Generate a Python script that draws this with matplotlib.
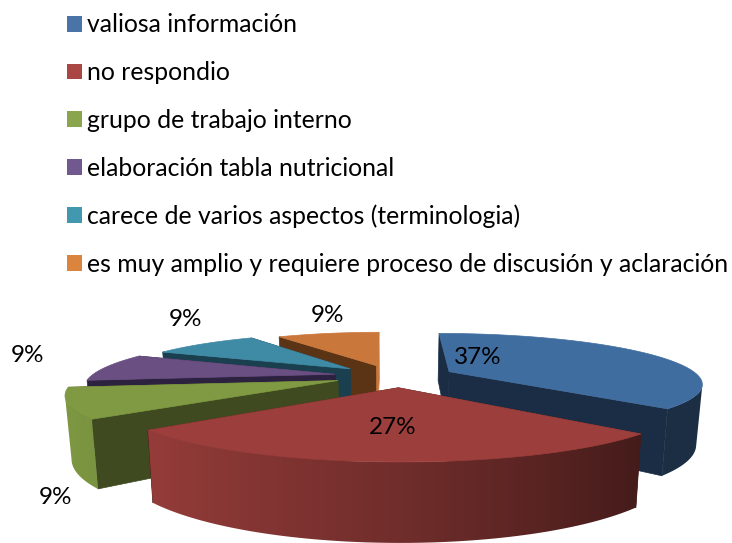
import numpy as np
import matplotlib
matplotlib.use('Agg')
import matplotlib.pyplot as plt
from matplotlib.patches import Patch, Polygon
from matplotlib.colors import to_rgb

labels = ['valiosa información', 'no respondio', 'grupo de trabajo interno',
          'elaboración tabla nutricional', 'carece de varios aspectos (terminologia)',
          'es muy amplio y requiere proceso de discusión y aclaración']
values = [37, 27, 9, 9, 9, 9]

# style per slice
top_colors = ['#406d9f', '#9c3f3c', '#7f9a43', '#6a4f82', '#3f8aa5', '#c9773a']
legend_colors = ['#4a74a8', '#aa4644', '#89a54e', '#71588f', '#4298af', '#db843d']
face_colors = ['#1b2d44', '#431a18', '#3f4a20', '#2d2140', '#1a3f4e', '#5b3315']
radius = [0.95, 1.0, 0.98, 0.93, 0.9, 0.86]
nudge_x = [0.02, 0.03, 0.0, 0.0, 0.0, 0.0]
label_xy = [(478, 357), (393, 428), (55, 497), (27, 355), (185, 319), (327, 315)]
explode = 0.22

# camera
CX, CY = 392, 376
F, G, H, D = 1147, 222, 255, 4.37

plt.rcParams['font.family'] = ['Lato', 'DejaVu Sans']

# images go under patches by default, so number everything in paint order
paint = [1]


def next_z():
    paint[0] += 1
    return paint[0]


def project(X, Y, z=0.0):
    s = 1 / (D + Y)
    return CX + F * X * s * (1 - 0.02 * z), CY - G * Y * s + H * z * s


def poly(ax, xs, ys, color):
    ax.fill(xs, ys, facecolor=color, edgecolor=color, lw=0.5, zorder=next_z())


def draw_wall(ax, i, X, Y, th):
    # outer wall: the front of the rim is where x falls as the angle grows
    tx, ty = project(X, Y)
    keep = (np.gradient(tx, th) < 0) & (np.cos(th) < 0.8)
    if keep.sum() < 2:
        return
    tx, ty, th = tx[keep], ty[keep], th[keep]
    bx, by = project(X[keep], Y[keep], 1.0)
    f = np.interp(np.sin(th), [-1, -0.75, 0, 0.75, 1], [1, 0.95, 0.72, 0.43, 0.42])
    grid = np.linspace(tx.min(), tx.max(), 300)
    shades = np.interp(grid, tx[::-1], f[::-1])
    rgb = np.array(to_rgb(top_colors[i]))[None, None, :] * shades[None, :, None]
    outline = np.c_[np.r_[tx, bx[::-1]], np.r_[ty, by[::-1]]]
    im = ax.imshow(rgb, extent=(outline[:, 0].min(), outline[:, 0].max(),
                                outline[:, 1].max(), outline[:, 1].min()),
                   aspect='auto', interpolation='bilinear', zorder=next_z())
    im.set_clip_path(Polygon(outline, transform=ax.transData))


def draw_slice(ax, i, a0, a1):
    mid = (a0 + a1) / 2
    ox = explode * np.sin(mid) + nudge_x[i]
    oy = explode * np.cos(mid)
    r = radius[i]
    th = np.linspace(a0, a1, 90)
    X = ox + r * np.sin(th)
    Y = oy + r * np.cos(th)

    # the two cut faces
    for a, is_end in ((a0, False), (a1, True)):
        ex, ey = ox + r * np.sin(a), oy + r * np.cos(a)
        px, py = project(np.array([ox, ex, ex, ox]), np.array([oy, ey, ey, oy]),
                         np.array([0, 0, 1, 1]))
        col = top_colors[i] if (is_end and i == len(values) - 1) else face_colors[i]
        poly(ax, px, py, col)

    draw_wall(ax, i, X, Y, th)

    # top
    px, py = project(np.r_[ox, X], np.r_[oy, Y])
    poly(ax, px, py, top_colors[i])


fig = plt.figure(figsize=(7.32, 5.43), dpi=100)
ax = fig.add_axes([0, 0, 1, 1])
ax.axis('off')

edges = np.r_[0, np.cumsum(values)] / sum(values) * 2 * np.pi
for i in [5, 4, 3, 0, 2, 1]:
    draw_slice(ax, i, edges[i], edges[i + 1])

ax.set_xlim(0, 732)
ax.set_ylim(543, 0)

for v, (x, y) in zip(values, label_xy):
    ax.text(x, y, f'{v}%', fontsize=17.5, ha='center', va='center', color='black',
            zorder=next_z())

handles = [Patch(facecolor=c, edgecolor='none') for c in legend_colors]
ax.legend(handles, labels, loc='upper left', bbox_to_anchor=(60 / 732, 1 - 6 / 543),
          frameon=False, fontsize=17.8, labelspacing=1.0, handlelength=0.61,
          handleheight=0.61, handletextpad=0.2, borderpad=0.3, borderaxespad=0)

fig.savefig('out.png', dpi=100)
